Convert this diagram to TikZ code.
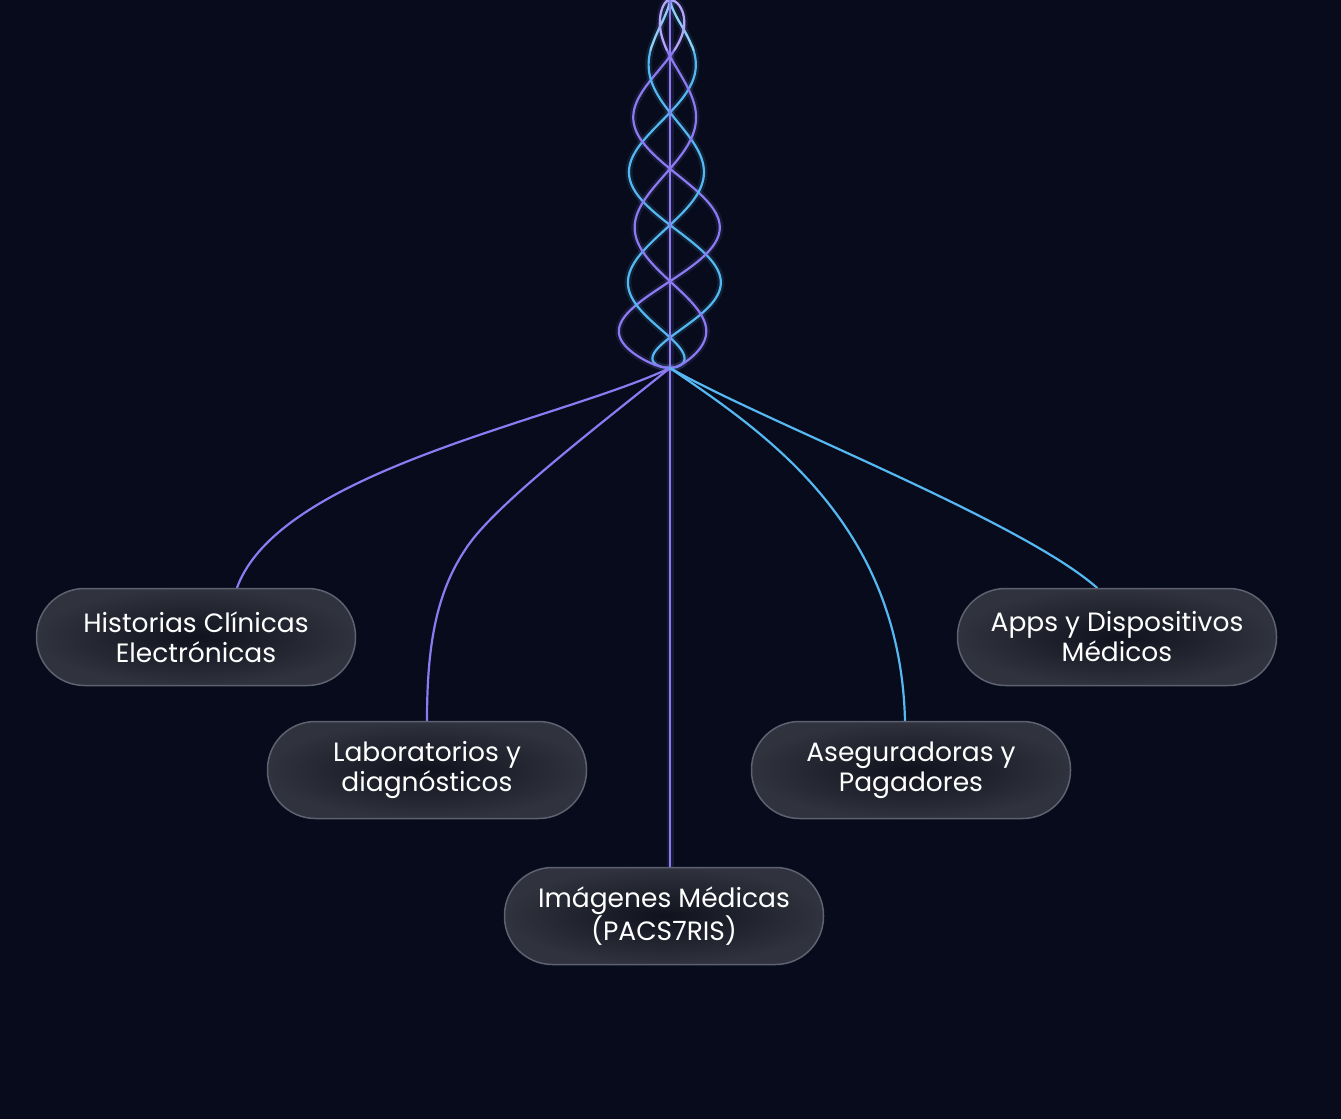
\documentclass[tikz,border=0pt]{standalone}
\usepackage{fontspec}
\setmainfont{Poppins}
\usetikzlibrary{backgrounds}
\definecolor{fondo}{HTML}{070B1B}
\definecolor{lila}{HTML}{8C7AF2}
\definecolor{cielo}{HTML}{55B8F2}
\definecolor{pillin}{HTML}{10121D}
\definecolor{pillout}{HTML}{30323E}
\definecolor{pillline}{HTML}{5E6170}
\tikzset{
  pill/.style={draw=pillline, line width=1.5pt, inner color=pillin, outer color=pillout,
    rounded corners=48pt, minimum width=319pt, minimum height=97pt, align=center,
    text=white, font=\fontsize{26.5}{30}\selectfont, inner sep=0pt},
  hilo/.style={line width=2.2pt, line cap=round},
  brillo/.style={line width=7pt, opacity=0.12, line cap=round}
}
\begin{document}
\begin{tikzpicture}[x=1pt, y=-1pt]
  \useasboundingbox (0,0) rectangle (1341,1119);
  \begin{scope}[on background layer]
    \fill[fondo] (0,0) rectangle (1341,1119);
  \end{scope}
  \coordinate (top) at (668,0);
  \coordinate (hub) at (670,368);
  % nodos
  \node[pill] (hce) at (196,637) {Historias Clínicas\\Electrónicas};
  \node[pill] (lab) at (427,770) {Laboratorios y\\diagnósticos};
  \node[pill] (img) at (664,916) {Imágenes Médicas\\(PACS7RIS)};
  \node[pill] (ase) at (911,770) {Aseguradoras y\\Pagadores};
  \node[pill] (app) at (1117,637) {Apps y Dispositivos\\Médicos};
  % conectores
  \begin{scope}[on background layer]
  \foreach \c/\ph/\amp in {cielo/0/58, lila/90/62, cielo/180/48, lila/270/44}{
    \draw[brillo,\c] (top) -- plot[domain=1:367, samples=160, variable=\t]
      ({670+\amp*pow(\t/368,0.45)*sqrt(1-pow(\t/368,14))*sin(\t*1.6+\ph)}, \t) -- (hub);
    \draw[hilo,\c] (top) -- plot[domain=1:367, samples=160, variable=\t]
      ({670+\amp*pow(\t/368,0.45)*sqrt(1-pow(\t/368,14))*sin(\t*1.6+\ph)}, \t) -- (hub);
    \draw[hilo,white,opacity=0.35] (top) -- plot[domain=1:50, samples=30, variable=\t]
      ({670+\amp*pow(\t/368,0.45)*sqrt(1-pow(\t/368,14))*sin(\t*1.6+\ph)}, \t);
  }
  \draw[brillo,lila] (top -| hub) -- (hub |- img.north);
  \draw[hilo,lila] (top -| hub) -- (hub |- img.north);
  \draw[hilo,lila] (hub) .. controls (560,420) and (280,470) .. (hce.north -| 237,0);
  \draw[hilo,lila] (hub) .. controls (580,440) and (490,510) .. (465,550)
    .. controls (435,595) and (427,650) .. (lab.north);
  \draw[hilo,cielo] (hub) .. controls (760,430) and (900,520) .. (ase.north -| 905,0);
  \draw[hilo,cielo] (hub) .. controls (760,420) and (1020,520) .. (app.north -| 1097,0);
  \end{scope}
\end{tikzpicture}
\end{document}
